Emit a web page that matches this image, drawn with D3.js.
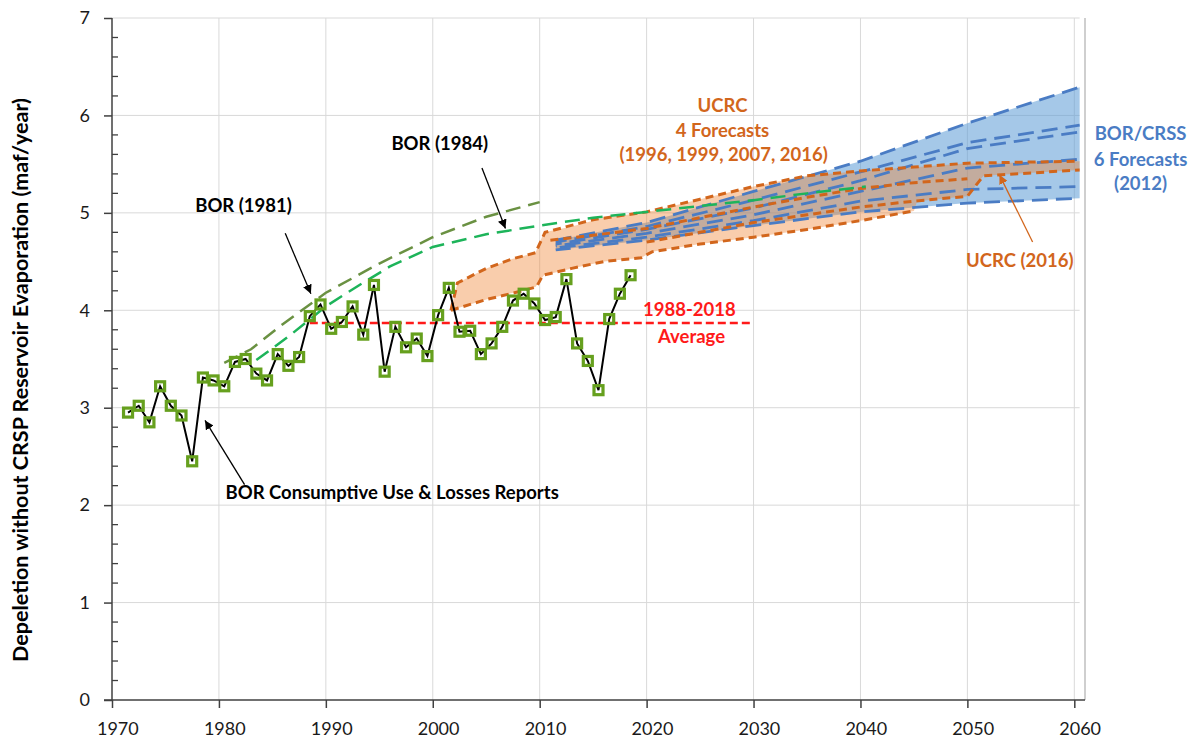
<!DOCTYPE html>
<html lang="en">
<head>
<meta charset="UTF-8" />
<title>CRSP depletion forecasts</title>
<script src="https://cdn.jsdelivr.net/npm/d3@7"></script>
<style>
  body { margin: 0; background: #fff; }
  svg text { font-family: Lato, "Open Sans", sans-serif; }
</style>
</head>
<body>
<div id="chart"></div>
<script>
// ---- data (maf/year) ----
const histYears = [1971,1972,1973,1974,1975,1976,1977,1978,1979,1980,1981,1982,1983,1984,1985,1986,1987,1988,1989,1990,
  1991,1992,1993,1994,1995,1996,1997,1998,1999,2000,2001,2002,2003,2004,2005,2006,2007,2008,2009,2010,
  2011,2012,2013,2014,2015,2016,2017,2018];
const histVals = [2.95,3.02,2.85,3.22,3.02,2.92,2.45,3.31,3.28,3.22,3.47,3.50,3.35,3.28,3.55,3.43,3.52,3.94,4.06,3.81,
  3.88,4.04,3.75,4.26,3.37,3.83,3.62,3.71,3.53,3.95,4.23,3.78,3.79,3.55,3.66,3.83,4.10,4.17,4.07,3.90,
  3.93,4.32,3.66,3.48,3.18,3.91,4.17,4.36];

const avgFrom = 1988.5, avgTo = 2030, avgVal = 3.87;

const bor1981Years = [1980.5,1983,1986,1989,1990,1995,2000,2005,2010];
const bor1981Vals  = [3.46,3.60,3.86,4.10,4.18,4.48,4.75,4.96,5.11];

const bor1984Years = [1983.5,1986.5,1990,1993,1996,2000,2005,2010,2015,2020,2025,2030,2035,2040.5];
const bor1984Vals  = [3.49,3.73,4.04,4.25,4.45,4.65,4.78,4.87,4.95,5.01,5.07,5.13,5.20,5.27];

// BOR/CRSS 2012, six runs
const crssYears = [2011.5,2020,2030,2040,2050,2060.5];
const crssRuns = [
  [4.72,4.90,5.22,5.53,5.92,6.29],
  [4.70,4.86,5.13,5.42,5.72,5.90],
  [4.68,4.83,5.05,5.33,5.66,5.83],
  [4.66,4.79,4.98,5.22,5.46,5.55],
  [4.64,4.75,4.92,5.12,5.24,5.27],
  [4.62,4.72,4.87,5.01,5.10,5.15]
];

// UCRC forecasts (1996, 1999, 2007, 2016)
const ucrcA_Years = [2001.7,2005,2008,2009.7,2010.3,2013,2016,2019.5,2020.5,2025,2030,2035,2040,2045];
const ucrcA_Vals  = [4.00,4.11,4.19,4.24,4.36,4.43,4.50,4.54,4.60,4.68,4.75,4.83,4.92,5.02];
const ucrcB_Years = [2001.7,2002.3,2005,2007.5,2009.6,2010.5,2015,2020,2025,2030,2035,2040,2045,2050,2060.5];
const ucrcB_Vals  = [4.00,4.28,4.43,4.53,4.59,4.80,4.93,5.01,5.14,5.27,5.38,5.43,5.47,5.51,5.53];
const ucrcC_Years = [2011,2015,2020,2025,2030,2035,2040,2045,2050];
const ucrcC_Vals  = [4.72,4.77,4.84,4.95,5.06,5.16,5.25,5.31,5.35];
const ucrcD_Years = [2020,2025,2030,2035,2040,2045,2050,2051.5,2060.5];
const ucrcD_Vals  = [4.70,4.80,4.90,4.98,5.06,5.12,5.17,5.38,5.44];

// envelope of the UCRC forecasts
const ucrcBandYears = [2001.7,2002.3,2005,2007.5,2009.6,2010.4,2013,2016,2019.5,2020.5,2025,2030,2035,2040,2045,2045.3,2050,2051.5,2060.5];
const ucrcBandLo    = [4.00,4.02,4.11,4.18,4.24,4.36,4.43,4.50,4.54,4.60,4.68,4.75,4.83,4.92,5.02,5.12,5.17,5.38,5.44];
const ucrcBandHi    = [4.00,4.28,4.43,4.53,4.59,4.80,4.86,4.95,5.00,5.02,5.14,5.27,5.38,5.43,5.47,5.47,5.51,5.51,5.53];

const xTicks = [1970,1980,1990,2000,2010,2020,2030,2040,2050,2060];
const yTicks = [0,1,2,3,4,5,6,7];

// ---- colours ----
const cGreenSq = "#66a01e", cOlive = "#6a9142", cGreen = "#1db45a";
const cBlue = "#4a7cc4", cOrange = "#d2661c", cRed = "#ff1a1a";

const W = 1193, H = 742;
const x = d3.scaleLinear().domain([1970, 2061]).range([112, 1085]);
const y = d3.scaleLinear().domain([0, 7]).range([700, 18]);

const svg = d3.select("#chart").append("svg").attr("width", W).attr("height", H);

const defs = svg.append("defs");
function arrowHead(id, color) {
  defs.append("marker").attr("id", id)
    .attr("viewBox", "0 0 10 10").attr("refX", 10).attr("refY", 5)
    .attr("markerWidth", 9).attr("markerHeight", 9).attr("markerUnits", "userSpaceOnUse")
    .attr("orient", "auto")
    .append("path").attr("d", "M0,0 L10,5 L0,10 Z").attr("fill", color);
}
arrowHead("arrK", "#000");
arrowHead("arrO", cOrange);

// grid
const grid = svg.append("g").attr("stroke", "#d9d9d9").attr("stroke-width", 1);
xTicks.slice(1).forEach(t => grid.append("line")
  .attr("x1", x(t)).attr("x2", x(t)).attr("y1", y(0)).attr("y2", y(7)));
yTicks.slice(1).forEach(t => grid.append("line")
  .attr("x1", x(1970)).attr("x2", x(2060.5)).attr("y1", y(t)).attr("y2", y(t)));
svg.append("line").attr("x1", x(2061)).attr("x2", x(2061)).attr("y1", y(0)).attr("y2", y(7))
  .attr("stroke", "#bfbfbf").attr("stroke-width", 1.5);

const line = d3.line().x(d => x(d[0])).y(d => y(d[1]));
const zip = (xs, vs) => xs.map((v, i) => [v, vs[i]]);

// bands
const crssHi = crssYears.map((yr, i) => d3.max(crssRuns, r => r[i]));
const crssLo = crssYears.map((yr, i) => d3.min(crssRuns, r => r[i]));
const area = d3.area().x(d => x(d.yr)).y0(d => y(d.lo)).y1(d => y(d.hi));

svg.append("path")
  .datum(crssYears.map((yr, i) => ({ yr, lo: crssLo[i], hi: crssHi[i] })))
  .attr("d", area).attr("fill", "#5b9bd5").attr("fill-opacity", 0.55);

svg.append("path")
  .datum(ucrcBandYears.map((yr, i) => ({ yr, lo: ucrcBandLo[i], hi: ucrcBandHi[i] })))
  .attr("d", area).attr("fill", "#f0822f").attr("fill-opacity", 0.4);

// forecast lines (staggered dash phase so the bunched runs stay readable)
crssRuns.forEach((r, i) => svg.append("path").datum(zip(crssYears, r)).attr("d", line)
  .attr("fill", "none").attr("stroke", cBlue).attr("stroke-width", 2.8)
  .attr("stroke-dasharray", "16 8").attr("stroke-dashoffset", i * 5));

[[ucrcA_Years, ucrcA_Vals], [ucrcB_Years, ucrcB_Vals], [ucrcC_Years, ucrcC_Vals], [ucrcD_Years, ucrcD_Vals]]
  .forEach(([xs, vs]) => svg.append("path").datum(zip(xs, vs)).attr("d", line)
    .attr("fill", "none").attr("stroke", cOrange).attr("stroke-width", 3)
    .attr("stroke-dasharray", "8 5"));

svg.append("path").datum(zip(bor1981Years, bor1981Vals)).attr("d", line)
  .attr("fill", "none").attr("stroke", cOlive).attr("stroke-width", 2.5).attr("stroke-dasharray", "15 8");
svg.append("path").datum(zip(bor1984Years, bor1984Vals)).attr("d", line)
  .attr("fill", "none").attr("stroke", cGreen).attr("stroke-width", 2.5).attr("stroke-dasharray", "15 8");

// 1988-2018 average
svg.append("line").attr("x1", x(avgFrom)).attr("x2", x(avgTo)).attr("y1", y(avgVal)).attr("y2", y(avgVal))
  .attr("stroke", cRed).attr("stroke-width", 2.5).attr("stroke-dasharray", "8 4");

// historical series, points sit mid-year
const hist = zip(histYears.map(d => d + 0.5), histVals);
svg.append("path").datum(hist).attr("d", line)
  .attr("fill", "none").attr("stroke", "#000").attr("stroke-width", 2);
svg.append("g").selectAll("rect").data(hist).join("rect")
  .attr("x", d => x(d[0]) - 4.5).attr("y", d => y(d[1]) - 4.5)
  .attr("width", 9).attr("height", 9)
  .attr("fill", "none").attr("stroke", cGreenSq).attr("stroke-width", 3.2);

// axes
const xAxis = svg.append("g").attr("transform", `translate(0,${y(0)})`)
  .call(d3.axisBottom(x).tickValues(xTicks).tickSize(8).tickPadding(14).tickFormat(d3.format("d")));
xAxis.select(".domain").attr("d", `M${x(1970) - 8},0H${x(2061)}`).attr("stroke", "#404040").attr("stroke-width", 1.5);
xAxis.selectAll(".tick line").attr("stroke", "#404040").attr("stroke-width", 1.5);
xAxis.selectAll(".tick text").attr("dx", x(1970.5) - x(1970))
  .style("font-size", "18px").attr("fill", "#1a1a1a");

const yAxis = svg.append("g").attr("transform", `translate(${x(1970)},0)`)
  .call(d3.axisLeft(y).tickValues(yTicks).tickSize(8).tickPadding(14).tickFormat(d3.format("d")));
yAxis.select(".domain").attr("d", `M0,${y(7)}V${y(0)}`).attr("stroke", "#404040").attr("stroke-width", 1.5);
yAxis.selectAll(".tick line").attr("stroke", "#404040").attr("stroke-width", 1.5);
yAxis.selectAll(".tick text").style("font-size", "18px").attr("fill", "#1a1a1a");
// minor ticks every 0.2 on the inside
const minor = d3.range(0, 7.001, 0.2).filter(v => Math.abs(v - Math.round(v)) > 0.01);
yAxis.append("g").selectAll("line").data(minor).join("line")
  .attr("x1", 0).attr("x2", 6).attr("y1", d => y(d)).attr("y2", d => y(d))
  .attr("stroke", "#404040").attr("stroke-width", 1.3);

svg.append("text")
  .attr("transform", `translate(20,380) rotate(-90)`)
  .attr("text-anchor", "middle").attr("dominant-baseline", "central")
  .style("font-size", "21.5px").style("font-weight", "bold").attr("fill", "#000")
  .text("Depeletion without CRSP Reservoir Evaporation (maf/year)");

// annotations
const notes = [
  { t: "BOR (1981)", yr: 1982.3, v: 5.08, c: "#000" },
  { t: "BOR (1984)", yr: 2000.65, v: 5.72, c: "#000" },
  { t: "BOR Consumptive Use & Losses Reports", yr: 1996.2, v: 2.13, c: "#000" },
  { t: "1988-2018", yr: 2024.0, v: 4.01, c: cRed },
  { t: "Average", yr: 2024.2, v: 3.74, c: cRed },
  { t: "UCRC", yr: 2027.1, v: 6.11, c: cOrange },
  { t: "4 Forecasts", yr: 2027.1, v: 5.85, c: cOrange },
  { t: "(1996, 1999, 2007, 2016)", yr: 2027.2, v: 5.60, c: cOrange },
  { t: "BOR/CRSS", yr: 2066.2, v: 5.82, c: cBlue },
  { t: "6 Forecasts", yr: 2066.2, v: 5.55, c: cBlue },
  { t: "(2012)", yr: 2066.2, v: 5.31, c: cBlue },
  { t: "UCRC (2016)", yr: 2054.9, v: 4.52, c: cOrange }
];
svg.append("g").selectAll("text").data(notes).join("text")
  .attr("x", d => x(d.yr)).attr("y", d => y(d.v))
  .attr("text-anchor", "middle").attr("dominant-baseline", "central")
  .style("font-size", "18.5px").style("font-weight", "bold")
  .attr("fill", d => d.c).text(d => d.t);

const arrows = [
  { from: [1986.2, 4.79], to: [1988.6, 4.17], m: "arrK", c: "#000" },
  { from: [2004.6, 5.46], to: [2006.8, 4.84], m: "arrK", c: "#000" },
  { from: [1982.4, 2.21], to: [1978.7, 2.87], m: "arrK", c: "#000" },
  { from: [2056.1, 4.70], to: [2053.0, 5.39], m: "arrO", c: cOrange }
];
svg.append("g").selectAll("line").data(arrows).join("line")
  .attr("x1", d => x(d.from[0])).attr("y1", d => y(d.from[1]))
  .attr("x2", d => x(d.to[0])).attr("y2", d => y(d.to[1]))
  .attr("stroke", d => d.c).attr("stroke-width", 1.3)
  .attr("marker-end", d => `url(#${d.m})`);
</script>
</body>
</html>
